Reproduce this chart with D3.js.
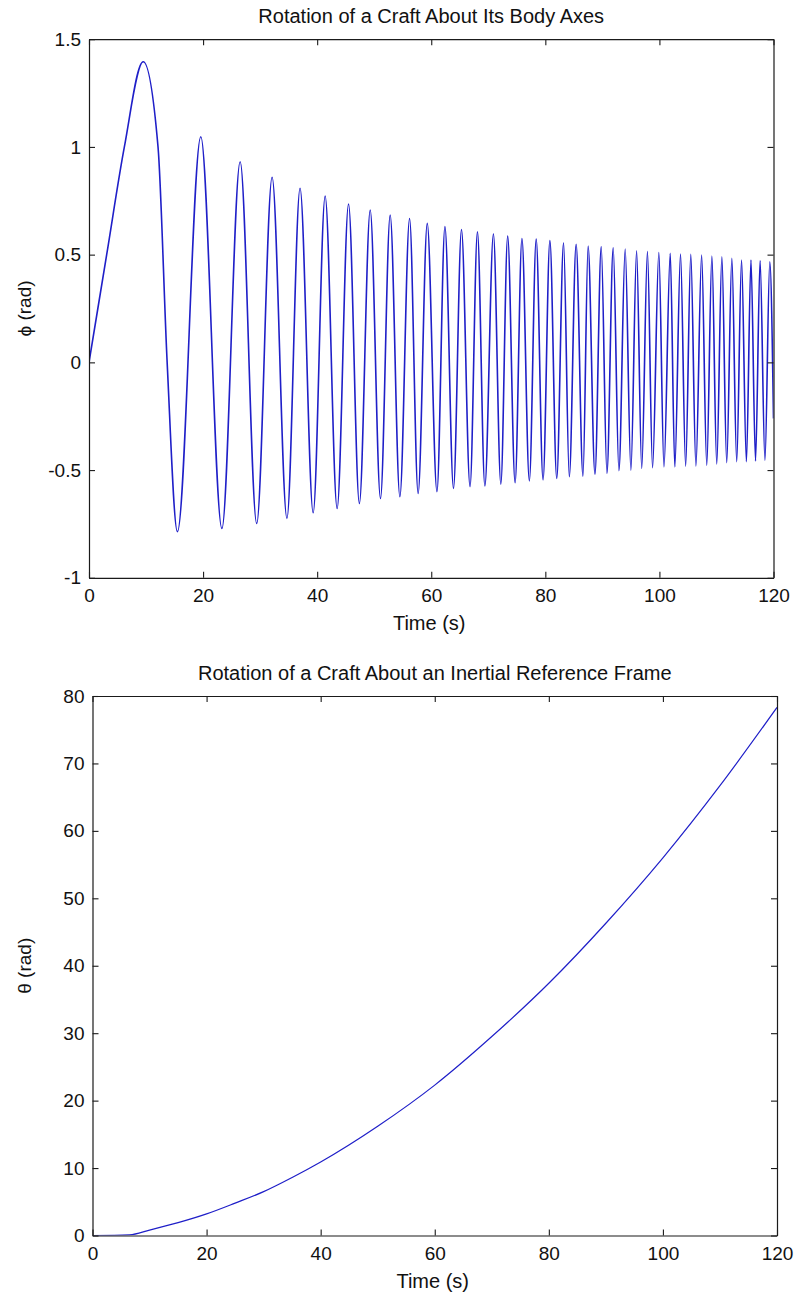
<!DOCTYPE html>
<html>
<head>
<meta charset="utf-8">
<script src="https://cdn.jsdelivr.net/npm/d3@7"></script>
<style>
  html, body { margin: 0; padding: 0; background: #fff; }
  svg { display: block; }
  text { font-family: "Liberation Sans", Arial, Helvetica, sans-serif; fill: #111; }
</style>
</head>
<body>
<svg id="fig" width="795" height="1297"></svg>
<script>
// Body-axis rotation φ(t): turning points of the oscillation (s, rad)
const phiTime = [0, 3.1, 6.2, 9.5, 12.1, 13.7, 15.5, 19.6, 23.3, 26.5, 29.4, 32.1, 34.7, 37.0, 39.3,
  41.4, 43.5, 45.5, 47.4, 49.3, 51.1, 52.8, 54.5, 56.2, 57.7, 59.3, 61.0, 62.4, 63.9, 65.3, 66.8,
  68.1, 69.4, 70.9, 72.2, 73.4, 74.7, 75.9, 77.2, 78.4, 79.6, 80.8, 82.0, 83.2, 84.2, 85.4, 86.6,
  87.5, 88.7, 89.8, 90.8, 91.9, 92.9, 94.0, 95.0, 96.0, 96.9, 97.9, 98.8, 99.9, 100.8, 101.9, 102.7,
  103.7, 104.6, 105.5, 106.4, 107.4, 108.3, 109.2, 110.05, 110.95, 111.8, 112.7, 113.55, 114.4,
  115.25, 116.05, 116.85, 117.65, 118.5, 119.35, 120];
const phiValue = [0, 0.5, 1.0, 1.395, 1.0, 0.0, -0.786, 1.047, -0.771, 0.931, -0.748, 0.859, -0.724, 0.808, -0.698,
  0.772, -0.678, 0.735, -0.655, 0.707, -0.632, 0.684, -0.624, 0.668, -0.608, 0.645, -0.600, 0.630, -0.585, 0.617, -0.577,
  0.606, -0.574, 0.596, -0.565, 0.586, -0.559, 0.575, -0.550, 0.572, -0.546, 0.565, -0.539, 0.555, -0.531, 0.548, -0.528,
  0.540, -0.519, 0.537, -0.515, 0.532, -0.503, 0.526, -0.500, 0.518, -0.492, 0.514, -0.489, 0.510, -0.485, 0.506, -0.485,
  0.503, -0.482, 0.501, -0.481, 0.498, -0.477, 0.493, -0.472, 0.490, -0.466, 0.483, -0.461, 0.475,
  -0.461, 0.475, -0.458, 0.472, -0.454, 0.467, -0.26];

// Inertial-frame rotation θ(t) (s, rad)
const thetaTime  = [0, 6.5, 10, 15, 20, 25, 30, 35, 40, 50, 60, 70, 80, 90, 100, 110, 120];
const thetaValue = [0, 0.1, 0.8, 1.9, 3.2, 4.8, 6.5, 8.6, 10.9, 16.2, 22.3, 29.5, 37.4, 46.3, 56.0, 66.7, 78.3];

// Axis ticks
const timeTicks  = [0, 20, 40, 60, 80, 100, 120];
const phiTicks   = [-1, -0.5, 0, 0.5, 1, 1.5];
const thetaTicks = [0, 10, 20, 30, 40, 50, 60, 70, 80];

const svg = d3.select("#fig");
const lineColor = "#1f1fc8";
const axisColor = "#1a1a1a";

function drawPanel(cfg) {
  const {left, right, top, bottom, xDomain, yDomain, yTicks, xs, ys, title, ylabel, clipId, lineWidth} = cfg;
  const x = d3.scaleLinear().domain(xDomain).range([left, right]);
  const y = d3.scaleLinear().domain(yDomain).range([bottom, top]);
  const g = svg.append("g");

  g.append("clipPath").attr("id", clipId)
    .append("rect").attr("x", left).attr("y", top)
    .attr("width", right - left).attr("height", bottom - top);

  // data line
  const pts = xs.map((t, i) => [t, ys[i]]);
  g.append("path")
    .datum(pts)
    .attr("clip-path", `url(#${clipId})`)
    .attr("fill", "none")
    .attr("stroke", lineColor)
    .attr("stroke-width", lineWidth)
    .attr("stroke-linejoin", "round")
    .attr("d", d3.line().x(d => x(d[0])).y(d => y(d[1])).curve(d3.curveMonotoneX));

  const fmt = d => String(d);

  // boxed axes with inward ticks on all four sides
  const ax = [
    g.append("g").attr("transform", `translate(0,${bottom})`)
      .call(d3.axisBottom(x).tickValues(timeTicks).tickFormat(fmt).tickSizeInner(-6).tickSizeOuter(0).tickPadding(11)),
    g.append("g").attr("transform", `translate(0,${top})`)
      .call(d3.axisTop(x).tickValues(timeTicks).tickFormat("").tickSizeInner(-6).tickSizeOuter(0)),
    g.append("g").attr("transform", `translate(${left},0)`)
      .call(d3.axisLeft(y).tickValues(yTicks).tickFormat(fmt).tickSizeInner(-6).tickSizeOuter(0).tickPadding(8)),
    g.append("g").attr("transform", `translate(${right},0)`)
      .call(d3.axisRight(y).tickValues(yTicks).tickFormat("").tickSizeInner(-6).tickSizeOuter(0))
  ];
  ax.forEach(a => {
    a.selectAll("path.domain").attr("stroke", axisColor).attr("stroke-width", 1.2);
    a.selectAll(".tick line").attr("stroke", axisColor).attr("stroke-width", 1.1);
    a.selectAll(".tick text").style("font-size", "19px").attr("fill", "#111")
      .style("font-family", '"Liberation Sans", Arial, sans-serif');
  });

  const cx = (left + right) / 2;
  g.append("text").attr("x", cx).attr("y", top - 16)
    .attr("text-anchor", "middle").style("font-size", "20px").text(title);
  g.append("text").attr("x", cx - 2).attr("y", bottom + 52)
    .attr("text-anchor", "middle").style("font-size", "20px").text("Time (s)");
  g.append("text")
    .attr("transform", `translate(31,${(top + bottom) / 2}) rotate(-90)`)
    .attr("text-anchor", "middle").style("font-size", "19px").text(ylabel);
}

drawPanel({
  left: 89, right: 773.5, top: 39.2, bottom: 577.8,
  xDomain: [0, 120], yDomain: [-1, 1.5], yTicks: phiTicks,
  xs: phiTime, ys: phiValue, lineWidth: 1.6,
  title: "Rotation of a Craft About Its Body Axes",
  ylabel: "ϕ (rad)", clipId: "clipPhi"
});

drawPanel({
  left: 92.5, right: 777, top: 696, bottom: 1235.5,
  xDomain: [0, 120], yDomain: [0, 80], yTicks: thetaTicks,
  xs: thetaTime, ys: thetaValue, lineWidth: 1.2,
  title: "Rotation of a Craft About an Inertial Reference Frame",
  ylabel: "θ (rad)", clipId: "clipTheta"
});
</script>
</body>
</html>
